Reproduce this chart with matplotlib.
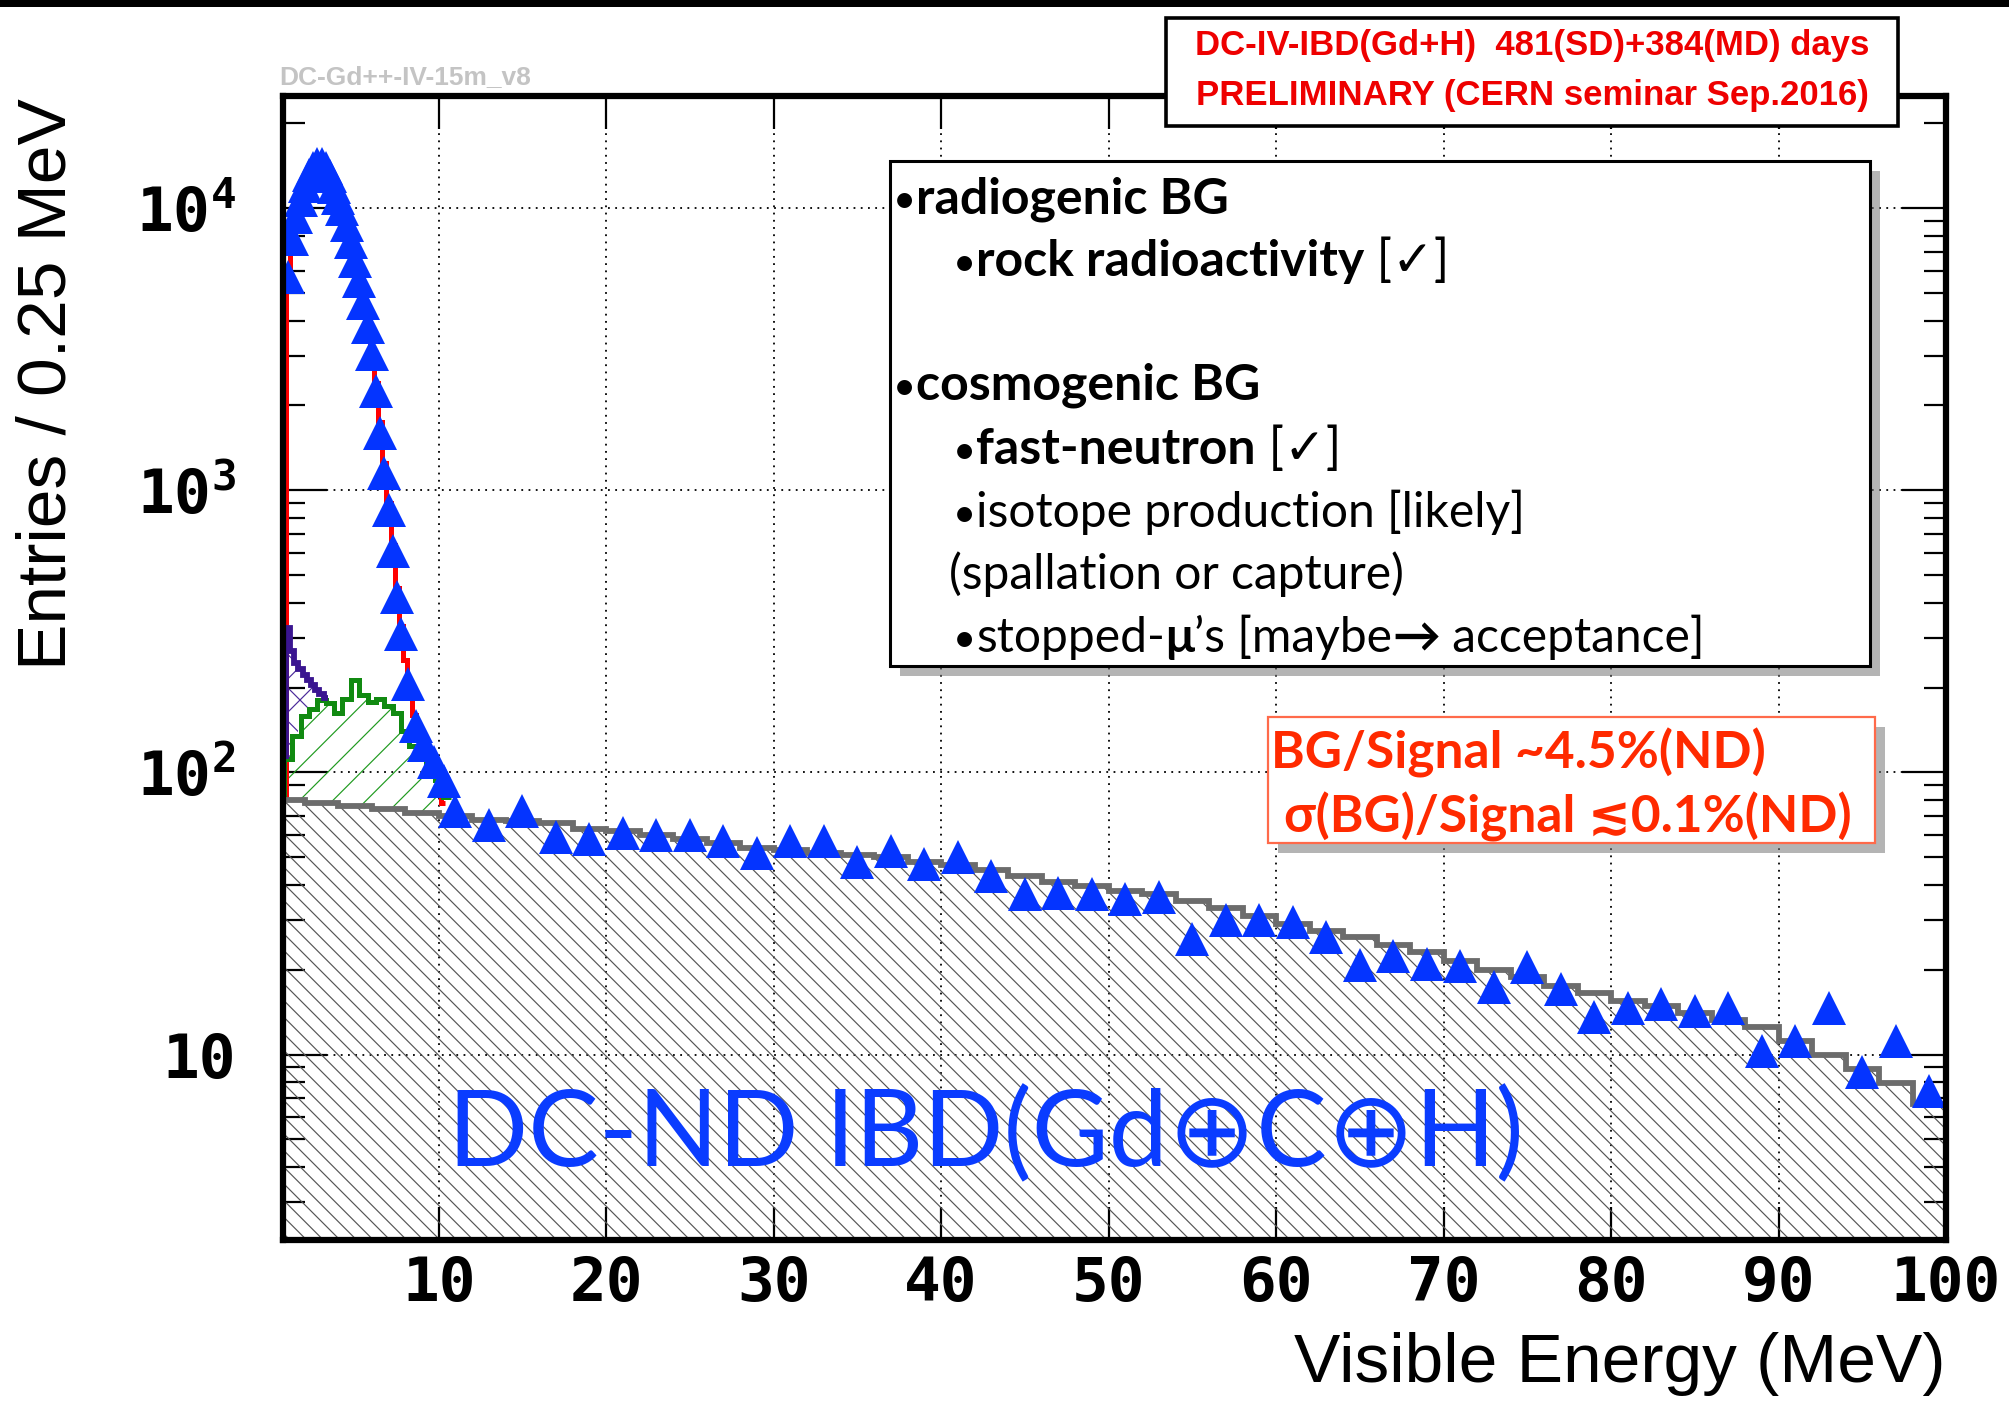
import matplotlib
matplotlib.use('Agg')
import matplotlib.pyplot as plt
import matplotlib.patheffects as pe
from matplotlib.patches import Rectangle
from matplotlib.ticker import FixedLocator, FixedFormatter, LogLocator, NullFormatter
import numpy as np

# ---- data ----
# blue triangles (data): fine bins in the peak, then 2 MeV bins
peak_energy = [1.0, 1.25, 1.5, 1.75, 2.0, 2.25, 2.5, 2.75, 3.0, 3.25, 3.5, 3.75,
               4.0, 4.25, 4.5, 4.75, 5.0, 5.25, 5.5, 5.75, 6.0, 6.25, 6.5, 6.75,
               7.0, 7.25, 7.5, 7.75, 8.15, 8.65, 9.1, 9.7, 10.3]
peak_counts = [5700, 7800, 9300, 10700, 12000, 13100, 13900, 14300, 14300, 13900, 13000, 11900,
               10900, 9900, 8700, 7600, 6500, 5500, 4600, 3800, 3050, 2250, 1600, 1150,
               850, 610, 420, 310, 205, 146, 125, 109, 93]
tail_energy = list(range(11, 100, 2))
tail_counts = [73, 65, 73, 59, 58, 61, 60, 60, 57, 52,
               57, 57, 48, 52.7, 47.5, 50, 43, 37, 37.5, 37,
               35.7, 36.3, 25.6, 29.9, 30, 29.4, 26, 20.8, 22.3, 21,
               20.6, 17.4, 20.4, 17.1, 13.6, 14.6, 15.1, 14.3, 14.6, 10.3,
               11.2, 14.6, 8.7, 11.2, 7.45]

# red: total prediction, 0.25 MeV bins
red_edges = np.arange(0.875, 10.376, 0.25)
red_counts = [5600, 7700, 9300, 10700, 12000, 13100, 13900, 14300, 14300, 13900, 13000, 11900,
              10900, 9800, 8700, 7600, 6500, 5500, 4600, 3800, 3100, 2400, 1750, 1250,
              900, 640, 450, 330, 250, 195, 160, 140, 125, 115, 106, 98, 88, 78]

# gray: fast-neutron, 2 MeV bins
gray_edges = np.arange(0, 101, 2)
gray_counts = [80, 78, 76, 74, 72, 70, 68, 67, 66, 63,
               62, 60, 58, 56, 54, 53, 52, 51, 50, 48,
               47, 45, 43, 41, 39.5, 38, 37, 35, 33, 31,
               29, 27.5, 26, 24.5, 23, 21.5, 20, 18.8, 17.5, 16.5,
               15.5, 14.8, 14, 13.2, 12.5, 11.2, 10, 8.9, 7.9, 6.7]

# green: cosmogenic (stacked on fast-neutron), 0.5 MeV bins
green_edges = np.arange(0.75, 10.76, 0.5)
green_counts = [112, 135, 158, 168, 180, 176, 163, 182, 212, 188,
                178, 182, 172, 162, 140, 124, 112, 104, 94, 82]

# purple: accidental, stacked on green, 0.25 MeV bins
purple_edges = np.arange(0.875, 3.376, 0.25)
purple_counts = [325, 270, 245, 232, 222, 212, 204, 196, 190, 184]

x_ticks = [10, 20, 30, 40, 50, 60, 70, 80, 90, 100]
y_ticks = [10, 100, 1000, 10000]
y_ticklabels = ['10', r'$\mathregular{10^{2}}$', r'$\mathregular{10^{3}}$', r'$\mathregular{10^{4}}$']

W, H = 2009, 1402
plt.rcParams['hatch.linewidth'] = 0.85

fig = plt.figure(figsize=(W / 100, H / 100), dpi=100)
ax = fig.add_axes([283 / W, 1 - 1240 / H, (1946 - 283) / W, (1240 - 96) / H])
ax.set_yscale('log')
ax.set_xlim(0.7, 100)
ax.set_ylim(2.2, 25000)

gray_edges = np.asarray(gray_edges)
gray_counts = np.asarray(gray_counts, dtype=float)
green_counts = np.asarray(green_counts, dtype=float)
purple_counts = np.asarray(purple_counts, dtype=float)

# gray hatched fast-neutron
ax.stairs(gray_counts, gray_edges, baseline=1, fill=True, facecolor='none',
          edgecolor='#555555', hatch='\\\\', linewidth=0, zorder=1)

# green stacked on gray
gc = 0.5 * (green_edges[:-1] + green_edges[1:])
green_base = gray_counts[np.searchsorted(gray_edges, gc, side='right') - 1]
ax.stairs(green_counts, green_edges, baseline=green_base, fill=True, facecolor='none',
          edgecolor='#1f9a1f', hatch='/', linewidth=0, zorder=2)

# purple stacked on green
pc = 0.5 * (purple_edges[:-1] + purple_edges[1:])
purple_base = green_counts[np.searchsorted(green_edges, pc, side='right') - 1]
ax.stairs(purple_counts, purple_edges, baseline=purple_base, fill=True, facecolor='none',
          edgecolor='#4a2a9a', hatch='x', linewidth=0, zorder=2)

# red total
ax.stairs(red_counts, red_edges, baseline=None, color='#ff0000', linewidth=3.6, zorder=3)
ax.vlines(red_edges[0], gray_counts[0], red_counts[0], color='#ff0000', linewidth=3.6, zorder=3)

# outlines
ax.stairs(green_counts, green_edges, baseline=None, color='#118a11', linewidth=3.6, zorder=4)
ax.vlines(green_edges[0], green_base[0], green_counts[0], color='#118a11', linewidth=3.6, zorder=4)
ax.stairs(purple_counts, purple_edges, baseline=None, color='#3a1590', linewidth=4.2, zorder=4)
ax.vlines(purple_edges[0], purple_base[0], purple_counts[0], color='#3a1590', linewidth=4.2, zorder=4)
ax.stairs(gray_counts, gray_edges, baseline=None, color='#6c6c6c', linewidth=4.2, zorder=4)

# data triangles
ax.plot(peak_energy + tail_energy, peak_counts + tail_counts, linestyle='none', marker='^',
        markersize=25, color='#0434ff', markeredgewidth=0, zorder=6)

# axes styling, ROOT-like
ax.xaxis.set_major_locator(FixedLocator(x_ticks))
ax.yaxis.set_major_locator(FixedLocator(y_ticks))
ax.yaxis.set_major_formatter(FixedFormatter(y_ticklabels))
ax.yaxis.set_minor_locator(LogLocator(base=10, subs=np.arange(2, 10)))
ax.yaxis.set_minor_formatter(NullFormatter())
ax.tick_params(which='both', direction='in', top=True, right=True, width=1.6, colors='black')
ax.tick_params(axis='x', which='major', length=24, pad=11)
ax.tick_params(axis='y', which='major', length=32, pad=34)
ax.tick_params(axis='y', which='minor', length=16, width=1.6)
for lab in ax.get_xticklabels() + ax.get_yticklabels():
    lab.set_fontfamily('DejaVu Sans Mono')
    lab.set_fontweight('bold')
    lab.set_fontsize(44)
ax.grid(True, which='major', color='black', linestyle=(0, (1, 3)), linewidth=1.3)
ax.set_axisbelow(True)
for sp in ax.spines.values():
    sp.set_linewidth(4.5)
    sp.set_zorder(10)

# axis titles
fig.text(48 / W, 1 - 384 / H, 'Entries / 0.25 MeV', rotation=90, ha='center', va='center',
         fontsize=50, family='Liberation Sans')
fig.text(1945 / W, 1 - 1364 / H, 'Visible Energy (MeV)', ha='right', va='center',
         fontsize=50, family='Liberation Sans')
fig.text(279 / W, 1 - 77 / H, 'DC-Gd++-IV-15m_v8', ha='left', va='center', fontsize=19,
         fontweight='bold', color='#c4c4c4', family='Liberation Sans')

# black band at the top
fig.add_artist(Rectangle((0, 1 - 7 / H), 1, 7 / H, transform=fig.transFigure,
                         facecolor='black', edgecolor='none', zorder=8))

def box(x0, y0, x1, y1, ec, lw, shadow):
    r = Rectangle((x0 / W, 1 - y1 / H), (x1 - x0) / W, (y1 - y0) / H, transform=fig.transFigure,
                  facecolor='white', edgecolor=ec, linewidth=lw, zorder=7)
    if shadow:
        r.set_path_effects([pe.SimplePatchShadow(offset=(7, -7), shadow_rgbFace='#777777', alpha=0.55),
                            pe.Normal()])
    fig.add_artist(r)

# top red label box
box(1166, 18, 1898, 126, 'black', 2.6, False)
fig.text(1532 / W, 1 - 45 / H, 'DC-IV-IBD(Gd+H)  481(SD)+384(MD) days', ha='center', va='center',
         fontsize=25, fontweight='bold', color='#ee0000', family='Liberation Sans', zorder=9)
fig.text(1532 / W, 1 - 96 / H, 'PRELIMINARY (CERN seminar Sep.2016)', ha='center', va='center',
         fontsize=25, fontweight='bold', color='#ee0000', family='Liberation Sans', zorder=9)

# background list box
box(890, 161, 1870, 666, 'black', 2.2, True)
renderer = fig.canvas.get_renderer()
fam = ['Lato', 'DejaVu Sans']

def row(x, y, parts, size, color='black'):
    for part in parts:
        s, w = part[0], part[1]
        k = part[2] if len(part) > 2 else 1.0
        t = fig.text(x / W, 1 - y / H, s, ha='left', va='baseline', fontsize=size * k, fontweight=w,
                     color=color, family=fam, zorder=9)
        x = t.get_window_extent(renderer=renderer).x1

sz = 36
lt = 0.96
dot = ('\u2022', 'normal', 0.8)
row(893, 213, [dot, ('radiogenic BG', 'bold')], sz)
row(953, 276, [dot, ('rock radioactivity', 'bold'), (' [\u2713]', 'normal')], sz)
row(893, 400, [dot, ('cosmogenic BG', 'bold')], sz)
row(953, 464, [dot, ('fast-neutron', 'bold'), (' [\u2713]', 'normal')], sz)
row(953, 527, [dot, ('isotope production [likely]', 'normal', lt)], sz)
row(949, 589, [('(spallation or capture)', 'normal', lt)], sz)
row(953, 652, [dot, ('stopped-', 'normal', lt), ('\u03bc', 'bold', lt),
               ('\u2019s [maybe', 'normal', lt), ('\u2192', 'bold', lt), (' acceptance]', 'normal', lt)], sz)

# BG / signal box
box(1268, 717, 1875, 843, '#ff6a4a', 1.6, True)
row(1271, 769, [('BG/Signal ~4.5%(ND)', 'bold')], 37, '#ff2a00')
row(1284, 833, [('\u03c3(BG)/Signal \u22720.1%(ND)', 'bold')], 37, '#ff2a00')

# big blue title
fig.text(448 / W, 1 - 1166 / H, 'DC-ND IBD(Gd\u2295C\u2295H)', ha='left', va='baseline',
         fontsize=76, color='#0a3cff', family=fam, zorder=9)

fig.savefig('out.png', dpi=100)
